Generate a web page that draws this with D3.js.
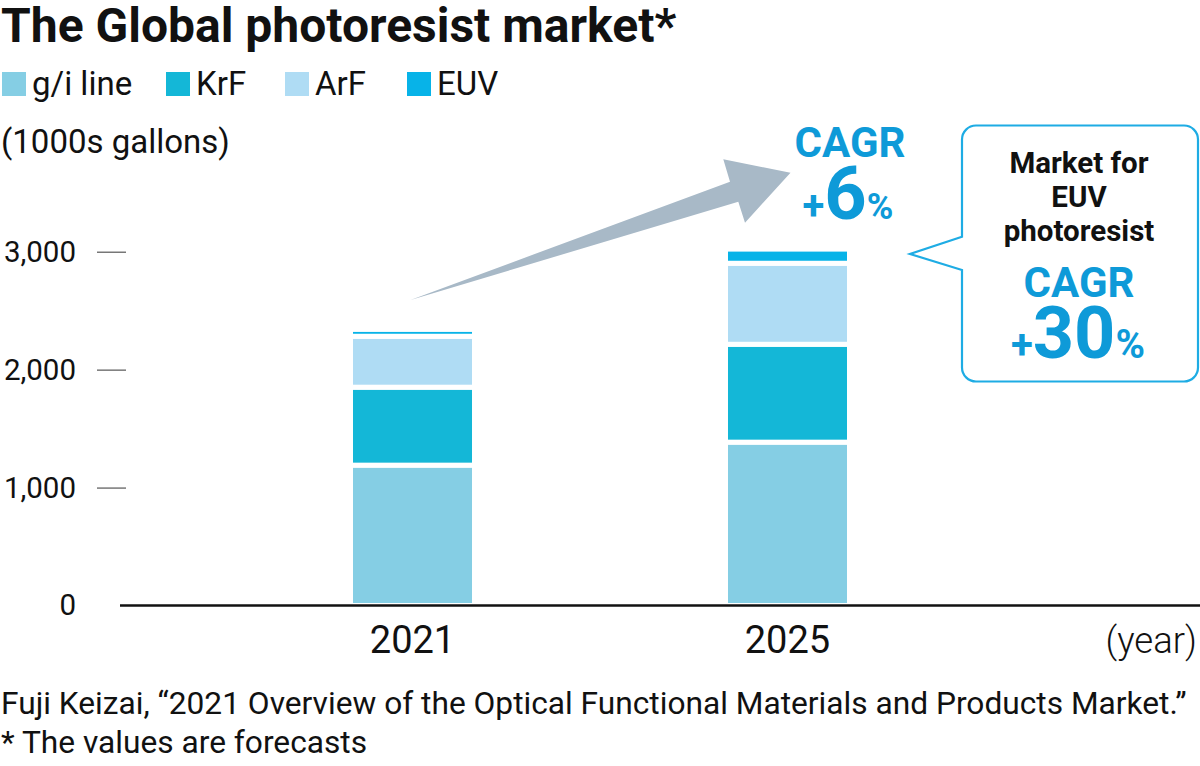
<!DOCTYPE html>
<html>
<head>
<meta charset="utf-8">
<script src="https://cdn.jsdelivr.net/npm/d3@7"></script>
<style>
  html, body { margin: 0; padding: 0; background: #fff; }
  svg { display: block; font-family: Roboto, "Noto Sans", sans-serif; }
</style>
</head>
<body>
<div id="chart"></div>
<script>
// data (1000s gallons)
const years = ["2021", "2025"];
const giLine = [1190, 1385];
const krf = [661, 830];
const arf = [432, 687];
const euv = [58, 120];
const seriesNames = ["g/i line", "KrF", "ArF", "EUV"];
const seriesColors = ["#85cee4", "#14b7d7", "#afdcf4", "#07b3e8"];
const yTicks = [0, 1000, 2000, 3000];

// SIZE
const width = 1200;
const height = 766;
const baseY = 605.5;
const topY = 251.7;  // where 3,000 sits

const rows = years.map((yr, i) => ({
  year: yr, "g/i line": giLine[i], KrF: krf[i], ArF: arf[i], EUV: euv[i]
}));

const stacked = d3.stack().keys(seriesNames)(rows);

const svg = d3.select('#chart').append('svg')
  .attr('width', width)
  .attr('height', height);

const yScale = d3.scaleLinear()
  .domain([0, 3000])
  .range([baseY, topY]);

const xScale = d3.scaleBand()
  .domain(years)
  .range([0, width])
  .paddingInner(0.6693)
  .paddingOuter(0.9347);

const color = d3.scaleOrdinal().domain(seriesNames).range(seriesColors);

// title
svg.append('text')
  .text('The Global photoresist market*')
  .attr('x', 1).attr('y', 42)
  .attr('font-size', 48).attr('font-weight', 700).attr('fill', '#111');

// legend
const legendX = [2, 166, 285, 407];
const legend = svg.selectAll('g.legend').data(seriesNames)
  .enter().append('g')
  .attr('class', 'legend')
  .attr('transform', (d, i) => `translate(${legendX[i]}, 72)`);
legend.append('rect')
  .attr('width', 24).attr('height', 24)
  .attr('fill', d => color(d));
legend.append('text')
  .text(d => d)
  .attr('x', 30).attr('y', 23)
  .attr('font-size', 33).attr('fill', '#111');

// unit
svg.append('text')
  .text('(1000s gallons)')
  .attr('x', 1).attr('y', 153)
  .attr('font-size', 33).attr('fill', '#111');

// bars
const barG = svg.append('g');
stacked.forEach(layer => {
  barG.selectAll(null).data(layer)
    .enter().append('rect')
    .attr('x', d => xScale(d.data.year))
    .attr('width', xScale.bandwidth())
    .attr('y', d => yScale(d[1]))
    .attr('height', d => yScale(d[0]) - yScale(d[1]))
    .attr('fill', color(layer.key))
    .attr('stroke', '#fff')
    .attr('stroke-width', 5);
});

// y axis
const yAxis = d3.axisLeft(yScale)
  .tickValues(yTicks)
  .tickSize(29)
  .tickPadding(21)
  .tickFormat(d3.format(','));

const yG = svg.append('g')
  .attr('transform', 'translate(126, 0)')
  .call(yAxis);
yG.select('.domain').remove();
yG.selectAll('.tick line').attr('stroke', '#555').attr('stroke-width', 1.2)
  .filter(d => d === 0).remove();
yG.selectAll('.tick text')
  .attr('font-size', 29.5).attr('fill', '#111')
  .attr('font-family', 'Roboto, sans-serif');

// baseline
svg.append('line')
  .attr('x1', 120).attr('x2', width)
  .attr('y1', baseY).attr('y2', baseY)
  .attr('stroke', '#111').attr('stroke-width', 2.5);

// x labels
svg.selectAll('text.xlab').data(years)
  .enter().append('text')
  .attr('class', 'xlab')
  .text(d => d)
  .attr('x', d => xScale(d) + xScale.bandwidth() / 2)
  .attr('y', 653)
  .attr('text-anchor', 'middle')
  .attr('font-size', 38).attr('fill', '#111');

svg.append('text')
  .text('(year)')
  .attr('x', 1197).attr('y', 653)
  .attr('text-anchor', 'end')
  .attr('font-size', 36.5).attr('font-weight', 300).attr('fill', '#111');

// footnotes
svg.append('text')
  .text('Fuji Keizai, \u201c2021 Overview of the Optical Functional Materials and Products Market.\u201d')
  .attr('x', 1).attr('y', 714)
  .attr('font-size', 31.7).attr('fill', '#111');
svg.append('text')
  .text('* The values are forecasts')
  .attr('x', 1).attr('y', 753)
  .attr('font-size', 31.7).attr('fill', '#111');

// growth arrow from 2021 towards 2025
const x21 = xScale('2021') + xScale.bandwidth() / 2;
const x25 = xScale('2025') + xScale.bandwidth() / 2;
const arrowPts = [
  [x21 - 2, 300],
  [730, 181.7],
  [723.3, 159.3],
  [x25 + 3, 172.7],
  [745, 222.7],
  [738.3, 201.7]
];
svg.append('path')
  .attr('d', d3.line()(arrowPts) + 'Z')
  .attr('fill', '#a8b9c7');

// CAGR +6%
const blue = '#0e9ad8';
svg.append('text')
  .text('CAGR')
  .attr('x', 850).attr('y', 157)
  .attr('text-anchor', 'middle')
  .attr('font-size', 42).attr('font-weight', 700).attr('fill', blue);
const t6 = svg.append('text')
  .attr('x', 848).attr('y', 219)
  .attr('text-anchor', 'middle')
  .attr('font-weight', 700).attr('fill', blue);
t6.append('tspan').text('+').attr('font-size', 40);
t6.append('tspan').text('6').attr('font-size', 74);
t6.append('tspan').text('%').attr('font-size', 36);

// callout box for EUV
const box = { x: 962, y: 125.5, w: 236, h: 256, r: 14 };
const callout = d3.path();
callout.moveTo(box.x + box.r, box.y);
callout.lineTo(box.x + box.w - box.r, box.y);
callout.arcTo(box.x + box.w, box.y, box.x + box.w, box.y + box.r, box.r);
callout.lineTo(box.x + box.w, box.y + box.h - box.r);
callout.arcTo(box.x + box.w, box.y + box.h, box.x + box.w - box.r, box.y + box.h, box.r);
callout.lineTo(box.x + box.r, box.y + box.h);
callout.arcTo(box.x, box.y + box.h, box.x, box.y + box.h - box.r, box.r);
callout.lineTo(box.x, 270);
callout.lineTo(910, 254);
callout.lineTo(box.x, 236.7);
callout.lineTo(box.x, box.y + box.r);
callout.arcTo(box.x, box.y, box.x + box.r, box.y, box.r);
callout.closePath();
svg.append('path')
  .attr('d', callout.toString())
  .attr('fill', '#fff')
  .attr('stroke', '#1eace4')
  .attr('stroke-width', 2.2);

const cx = 1079;
['Market for', 'EUV', 'photoresist'].forEach((s, i) => {
  svg.append('text')
    .text(s)
    .attr('x', cx).attr('y', 173 + i * 34)
    .attr('text-anchor', 'middle')
    .attr('font-size', 29.5).attr('font-weight', 700).attr('fill', '#111');
});
svg.append('text')
  .text('CAGR')
  .attr('x', cx).attr('y', 297)
  .attr('text-anchor', 'middle')
  .attr('font-size', 42).attr('font-weight', 700).attr('fill', blue);
const t30 = svg.append('text')
  .attr('x', 1078).attr('y', 358)
  .attr('text-anchor', 'middle')
  .attr('font-weight', 700).attr('fill', blue);
t30.append('tspan').text('+').attr('font-size', 40);
t30.append('tspan').text('30').attr('font-size', 72);
t30.append('tspan').text('%').attr('font-size', 40);
</script>
</body>
</html>
